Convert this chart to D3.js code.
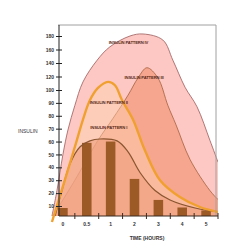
<!DOCTYPE html>
<html>
<head>
<meta charset="utf-8">
<script src="https://cdn.jsdelivr.net/npm/d3@7"></script>
<style>
  html, body { margin: 0; padding: 0; background: #fff; }
  svg { display: block; }
  text { font-family: "Liberation Sans", Arial, sans-serif; }
</style>
</head>
<body>
<script>
// time axis (hours) is categorical: 0, 0.5, 1, 2, 3, 4, 5
const hours = [0, 0.5, 1, 2, 3, 4, 5]
const hourLabels = ['0', '0.5', '1', '2', '3', '4', '5']
const barValues = [8, 59, 60, 31, 14.7, 8.5, 5.5]

const yTicks = [10, 20, 30, 40, 50, 60, 70, 80, 90, 100, 120, 140, 160, 180]

// curves: [hours, insulin]
const pattern4 = [[-0.23, 0], [-0.125, 22], [0, 50], [0.105, 69], [0.25, 88], [0.42, 112], [0.715, 144],
  [0.985, 164], [1.81, 180], [2.36, 183], [3.19, 174], [3.61, 144], [4.12, 104], [4.62, 87], [5.16, 61], [5.5, 44]]
const pattern3 = [[-0.21, 0], [0.25, 30], [0.735, 61], [1.1, 78], [1.73, 96], [2.15, 118], [2.52, 133],
  [2.98, 118], [3.4, 88], [3.74, 73], [4.33, 46], [5.16, 22], [5.5, 15]]
const pattern2 = [[-0.23, -6], [-0.06, 18], [0.105, 38], [0.275, 59], [0.42, 77], [0.565, 92], [0.735, 103],
  [0.945, 112], [1.18, 107], [1.48, 92], [1.94, 77], [2.44, 53], [3.07, 30], [3.9, 17], [4.74, 9], [5.5, 4]]
const pattern1 = [[-0.165, 0], [-0.02, 22], [0.15, 43], [0.36, 56], [0.565, 60.5], [0.775, 62], [1.27, 60.5],
  [1.73, 52], [2.23, 36], [2.86, 22], [3.49, 14.7], [4.54, 8], [5.5, 4]]

const width = 250, height = 250

const svg = d3.select('body').append('svg')
  .attr('width', width)
  .attr('height', height)

const band = d3.scaleBand()
  .domain(hourLabels)
  .range([51, 218])

// hours -> pixel, through the category centres
const x = d3.scaleLinear()
  .domain(hours)
  .range(hourLabels.map(l => band(l) + band.bandwidth() / 2))

// the value axis is not even: 100..180 is squeezed
const y = d3.scaleLinear()
  .domain([0, 10, 100, 180])
  .range([216, 206, 90, 36])

svg.append('clipPath').attr('id', 'plot')
  .append('rect').attr('x', 50).attr('y', 25).attr('width', 168).attr('height', 200)

const g = svg.append('g').attr('clip-path', 'url(#plot)')

const area = d3.area()
  .x(d => x(d[0]))
  .y0(y(0))
  .y1(d => y(d[1]))
  .curve(d3.curveCatmullRom)

const line = d3.line()
  .x(d => x(d[0]))
  .y(d => y(d[1]))
  .curve(d3.curveCatmullRom)

g.append('path').datum(pattern4).attr('d', area).attr('fill', '#fdc8c3')
g.append('path').datum(pattern4).attr('d', line).attr('fill', 'none').attr('stroke', '#9a5a5a').attr('stroke-width', 0.8)

g.append('path').datum(pattern3).attr('d', area).attr('fill', '#f6a68e')
g.append('path').datum(pattern3).attr('d', line).attr('fill', 'none').attr('stroke', '#a4603e').attr('stroke-width', 0.8)

g.append('path').datum(pattern2).attr('d', area).attr('fill', '#ffd2b0').attr('fill-opacity', 0.45)

g.append('path').datum(pattern1).attr('d', area).attr('fill', '#ee9d7c').attr('fill-opacity', 0.6)

g.selectAll('.bar')
  .data(barValues)
  .join('rect')
  .attr('class', 'bar')
  .attr('x', (d, i) => band(hourLabels[i]) + band.bandwidth() * 0.3)
  .attr('width', band.bandwidth() * 0.4)
  .attr('y', d => y(d))
  .attr('height', d => y(0) - y(d))
  .attr('fill', '#9b5a26')

g.append('path').datum(pattern1).attr('d', line).attr('fill', 'none').attr('stroke', '#8a5530').attr('stroke-width', 1.2)
g.append('path').datum(pattern2).attr('d', line).attr('fill', 'none').attr('stroke', '#f0a02e').attr('stroke-width', 2.4)

// frame
svg.append('path')
  .attr('d', `M58,25H216V${y(0)}`)
  .attr('fill', 'none')
  .attr('stroke', '#a0a0a0')
  .attr('stroke-width', 1)

// y axis
const yAxis = svg.append('g').attr('transform', 'translate(59,0)')
  .call(d3.axisLeft(y).tickValues(yTicks).tickSize(3).tickPadding(2).tickFormat(d3.format('d')))
yAxis.select('.domain').attr('d', `M0,25V${y(0)}`).attr('stroke', '#222')
yAxis.selectAll('.tick line').attr('x2', 6).attr('transform', 'translate(-3,0)').attr('stroke', '#222')
yAxis.selectAll('.tick text').attr('x', -5).attr('font-size', 5).attr('font-weight', 'bold').attr('fill', '#333')

// x axis: ticks sit on the category boundaries
const xAxis = svg.append('g').attr('transform', `translate(0,${y(0)})`)
  .call(d3.axisBottom(band).tickSize(0).tickPadding(6))
xAxis.select('.domain').attr('d', 'M59,0H218').attr('stroke', '#3a2a20')
xAxis.selectAll('.tick text').attr('font-size', 5).attr('font-weight', 'bold').attr('fill', '#333')
xAxis.selectAll('.bound')
  .data(hourLabels)
  .join('line')
  .attr('class', 'bound')
  .attr('x1', d => band(d) + band.bandwidth())
  .attr('x2', d => band(d) + band.bandwidth())
  .attr('y1', -3).attr('y2', 3)
  .attr('stroke', '#3a2a20')

// pattern labels
const labels = [
  ['INSULIN PATTERN IV', 1.75, 168],
  ['INSULIN PATTERN III', 2.4, 117],
  ['INSULIN PATTERN II', 0.96, 89],
  ['INSULIN PATTERN I', 0.96, 70]
]
svg.selectAll('.plabel')
  .data(labels)
  .join('text')
  .attr('class', 'plabel')
  .attr('x', d => x(d[1]))
  .attr('y', d => y(d[2]))
  .attr('text-anchor', 'middle')
  .attr('font-size', 4.2)
  .attr('font-weight', 'bold')
  .attr('letter-spacing', -0.15)
  .attr('fill', '#5a2a1a')
  .text(d => d[0])

svg.append('text')
  .attr('x', 18).attr('y', 133)
  .attr('font-size', 5)
  .attr('fill', '#333')
  .text('INSULIN')

svg.append('text')
  .attr('x', 147).attr('y', 240)
  .attr('text-anchor', 'middle')
  .attr('font-size', 5)
  .attr('font-weight', 'bold')
  .attr('fill', '#333')
  .text('TIME (HOURS)')
</script>
</body>
</html>
